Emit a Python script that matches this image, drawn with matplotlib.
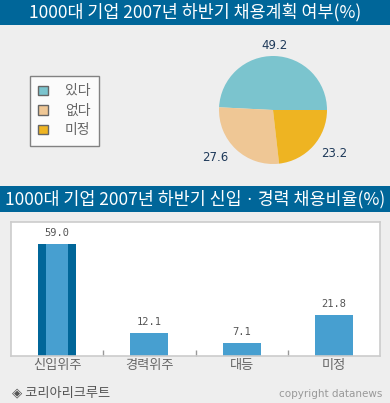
import matplotlib
matplotlib.use("Agg")
import matplotlib.pyplot as plt
from matplotlib.patches import Rectangle

plt.rcParams['font.family'] = ['Noto Sans CJK KR', 'DejaVu Sans']

# ---- data ----
title1 = "1000대 기업 2007년 하반기 채용계획 여부(%)"
title2 = "1000대 기업 2007년 하반기 신입ㆍ경력 채용비율(%)"
pie_labels = ["있다", "없다", "미정"]
pie_values = [49.2, 27.6, 23.2]
pie_colors = ["#7BC4CE", "#EFC795", "#EEB422"]

bar_categories = ["신입위주", "경력위주", "대등", "미정"]
bar_values = [59.0, 12.1, 7.1, 21.8]
source_text = "◈ 코리아리크루트"
copyright_text = "copyright datanews"

W, H = 390, 403
fig = plt.figure(figsize=(W / 100, H / 100), dpi=100, facecolor="#EEEEEE")


def rect(x, y, w, h):
    return [x / W, 1 - (y + h) / H, w / W, h / H]


# title bars
for (y0, h, txt) in [(0, 25, title1), (186, 26, title2)]:
    fig.patches.append(Rectangle((0, 1 - (y0 + h) / H), 1, h / H,
                                 transform=fig.transFigure, facecolor="#006699",
                                 edgecolor="none", zorder=0))
    fig.text(0.5, 1 - (y0 + h / 2) / H, txt, color="white", fontsize=12.5,
             ha="center", va="center", fontweight="medium")

# ---- pie ----
axp = fig.add_axes(rect(219, 56, 108, 108))
wedges, texts = axp.pie(pie_values, colors=pie_colors, startangle=0,
                        counterclock=True, labels=[f"{v:.1f}" for v in pie_values],
                        labeldistance=1.2,
                        textprops=dict(color="#1F3A5A", fontsize=8.5,
                                       family="DejaVu Sans"),
                        wedgeprops=dict(linewidth=0))
for t in texts:
    x, y = t.get_position()
    if abs(x) < 0.3:
        t.set_ha("center")
axp.set_xlim(-1, 1)
axp.set_ylim(-1, 1)
axp.set_aspect("equal")
axp.axis("off")

leg = fig.legend(wedges, pie_labels, loc="upper left",
                 bbox_to_anchor=(30 / W, 1 - 76 / H), borderaxespad=0,
                 frameon=True, fancybox=False, fontsize=10,
                 handlelength=0.7, handleheight=0.7, handletextpad=1.2,
                 labelspacing=0.4, borderpad=0.6, labelcolor="#666666")
leg.get_frame().set_edgecolor("#666666")
leg.get_frame().set_linewidth(1.0)
for hnd in leg.legend_handles:
    hnd.set_edgecolor("#666666")
    hnd.set_linewidth(1.0)

# ---- bars ----
axb = fig.add_axes(rect(11, 222, 369, 134))
axb.set_facecolor("white")
x = list(range(len(bar_categories)))
light = "#479FD0"
dark = "#006699"
bar_colors = [dark] + [light] * (len(x) - 1)
axb.bar(x, bar_values, width=0.41, color=bar_colors, linewidth=0)
axb.bar(x[:1], bar_values[:1], width=0.24, color=light, linewidth=0)
for xi, v in zip(x, bar_values):
    axb.annotate(f"{v:.1f}", (xi, v), xytext=(0, 4), textcoords="offset points",
                 ha="center", va="bottom", fontsize=7.5, color="#555555",
                 family="DejaVu Sans Mono")
axb.set_xlim(-0.5, len(x) - 0.5)
axb.set_ylim(0, 70.5)
axb.set_yticks([])
axb.set_xticks(x)
axb.set_xticklabels(bar_categories, fontsize=9.5, color="#666666")
axb.tick_params(axis="x", which="major", length=0, pad=2)
axb.set_xticks([i + 0.5 for i in x[:-1]], minor=True)
axb.tick_params(axis="x", which="minor", direction="in", length=4, width=1,
                color="#999999")
for s in axb.spines.values():
    s.set_color("#CCCCCC")
    s.set_linewidth(1.2)

# ---- footer ----
fig.text(12 / W, 1 - 393 / H, source_text, fontsize=9.5, color="#555555",
         ha="left", va="center")
fig.text(382 / W, 1 - 394 / H, copyright_text, fontsize=7.5, color="#999999",
         ha="right", va="center", family="DejaVu Sans")

fig.savefig("out.png", dpi=100, facecolor=fig.get_facecolor())
